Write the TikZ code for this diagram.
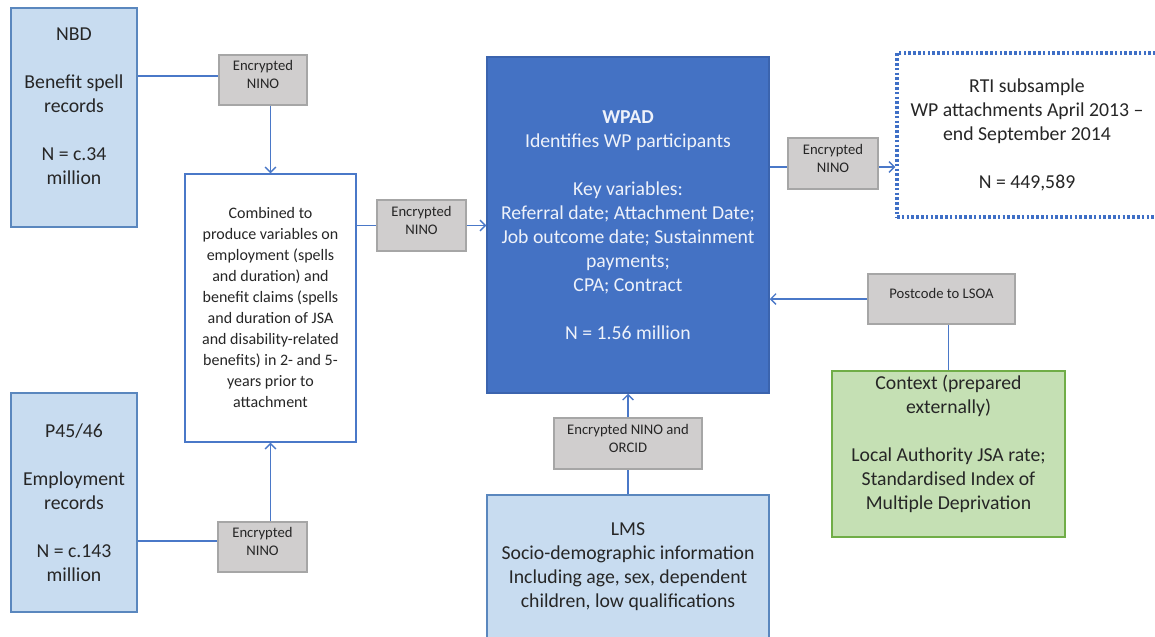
\documentclass[tikz,border=0pt]{standalone}
\usepackage{fontspec}
\setmainfont{Carlito}
\usetikzlibrary{arrows.meta,fit}

\definecolor{srcfill}{HTML}{C8DCF0}
\definecolor{srcline}{HTML}{5A87BE}
\definecolor{wpadfill}{HTML}{4472C4}
\definecolor{wpadline}{HTML}{3B64AE}
\definecolor{linkblue}{HTML}{4A78C8}
\definecolor{keyfill}{HTML}{D0CECE}
\definecolor{keyline}{HTML}{A6A6A6}
\definecolor{ctxfill}{HTML}{C5E0B4}
\definecolor{ctxline}{HTML}{70AD47}
\definecolor{txt}{HTML}{262626}
\definecolor{wpadtxt}{HTML}{EEF2FA}
\definecolor{dotblue}{HTML}{3F6FC6}

\begin{document}
\begin{tikzpicture}[x=0.75pt,y=-0.75pt,
  frame/.style={inner sep=0pt, line width=1.1pt},
  source/.style={frame, fill=srcfill, draw=srcline},
  keybox/.style={frame, fill=keyfill, draw=keyline, text=txt, align=center,
    font=\fontsize{11}{13.5}\selectfont},
  bigtext/.style={text=txt, align=center, inner sep=0pt,
    font=\fontsize{14.8}{18}\selectfont},
  link/.style={draw=linkblue, line width=1.2pt},
  arr/.style={link, -{Straight Barb[length=4pt,width=8pt,line width=1pt]}}
]
\useasboundingbox (0,0) rectangle (1155,636);
\fill[white] (0,0) rectangle (1155,636);

% data sources
\node[source, fit={(11,8) (137,227)}] (nbd) {};
\node[bigtext] (nbdtext) at (74,106)
  {NBD\\[18pt]Benefit spell\\records\\[18pt]N = c.34\\million};

\node[source, fit={(11,393) (137,612)}] (p45) {};
\node[bigtext] (p45text) at (74,503)
  {P45/46\\[18pt]Employment\\records\\[18pt]N = c.143\\million};

% combination step
\node[frame, draw=linkblue, fill=white, fit={(185,174) (356,442)}] (comb) {};
\node[text=txt, align=center, inner sep=0pt,
  font=\fontsize{12}{15.75}\selectfont] (combtext) at (270.5,307)
  {Combined to\\produce variables on\\employment (spells\\and duration) and\\benefit claims (spells\\and duration of JSA\\and disability-related\\benefits) in 2- and 5-\\years prior to\\attachment};

% main administrative dataset
\node[frame, fill=wpadfill, draw=wpadline, fit={(487,57) (769,393)}] (wpad) {};
\node[bigtext, text=wpadtxt] (wpadtext) at (628,225)
  {\textbf{WPAD}\\Identifies WP participants\\[18pt]Key variables:\\Referral date; Attachment Date;\\Job outcome date; Sustainment\\payments;\\CPA; Contract\\[18pt]N = 1.56 million};

% subsample (dotted outline)
\node[inner sep=0pt, draw=dotblue, line width=2.6pt, dash pattern=on 2pt off 1.6pt,
  fit={(897,53) (1158,217)}] (rti) {};
\node[bigtext] (rtitext) at (1027,135)
  {RTI subsample\\WP attachments April 2013 --\\end September 2014\\[18pt]N = 449,589};

% context
\node[frame, fill=ctxfill, draw=ctxline, fit={(832,371) (1065,537)}] (ctx) {};
\node[bigtext] (ctxtext) at (948.5,443.5)
  {Context (prepared\\externally)\\[18pt]Local Authority JSA rate;\\Standardised Index of\\Multiple Deprivation};

% labour market system
\node[source, fit={(487,495) (769,660)}] (lms) {};
\node[bigtext] (lmstext) at (628,566.5)
  {LMS\\Socio-demographic information\\Including age, sex, dependent\\children, low qualifications};

% linkage keys
\node[keybox, fit={(219,55) (307,105)}] (enc1) {Encrypted\\NINO};
\node[keybox, fit={(377,200) (466,251)}] (enc2) {Encrypted\\NINO};
\node[keybox, fit={(788,138) (878,189)}] (enc3) {Encrypted\\NINO};
\node[keybox, fit={(218,522) (307,572)}] (enc4) {Encrypted\\NINO};
\node[keybox, fit={(554,418) (702,469)}] (enc5) {Encrypted NINO and\\ORCID};
\node[keybox, fit={(868,274) (1015,324)}] (post) {Postcode to LSOA};

% connectors
\draw[link] (nbd.east |- 0,76) -- (enc1.west |- 0,76);
\draw[arr] (enc1.south -| comb.north) -- (comb.north);
\draw[link] (p45.east |- 0,541) -- (enc4.west |- 0,541);
\draw[arr] (enc4.north -| comb.south) -- (comb.south);
\draw[link] (comb.east |- enc2.west) -- (enc2.west);
\draw[arr] (enc2.east) -- (wpad.west |- enc2.east);
\draw[link] (wpad.east |- 0,167) -- (enc3.west |- 0,167);
\draw[arr] (enc3.east |- 0,167) -- (rti.west |- 0,167);
\draw[arr] (post.west) -- (wpad.east |- post.west);
\draw[link] (ctx.north) -- (ctx.north |- post.south);
\draw[link] (lms.north) -- (enc5.south);
\draw[arr] (enc5.north) -- (wpad.south);
\end{tikzpicture}
\end{document}
